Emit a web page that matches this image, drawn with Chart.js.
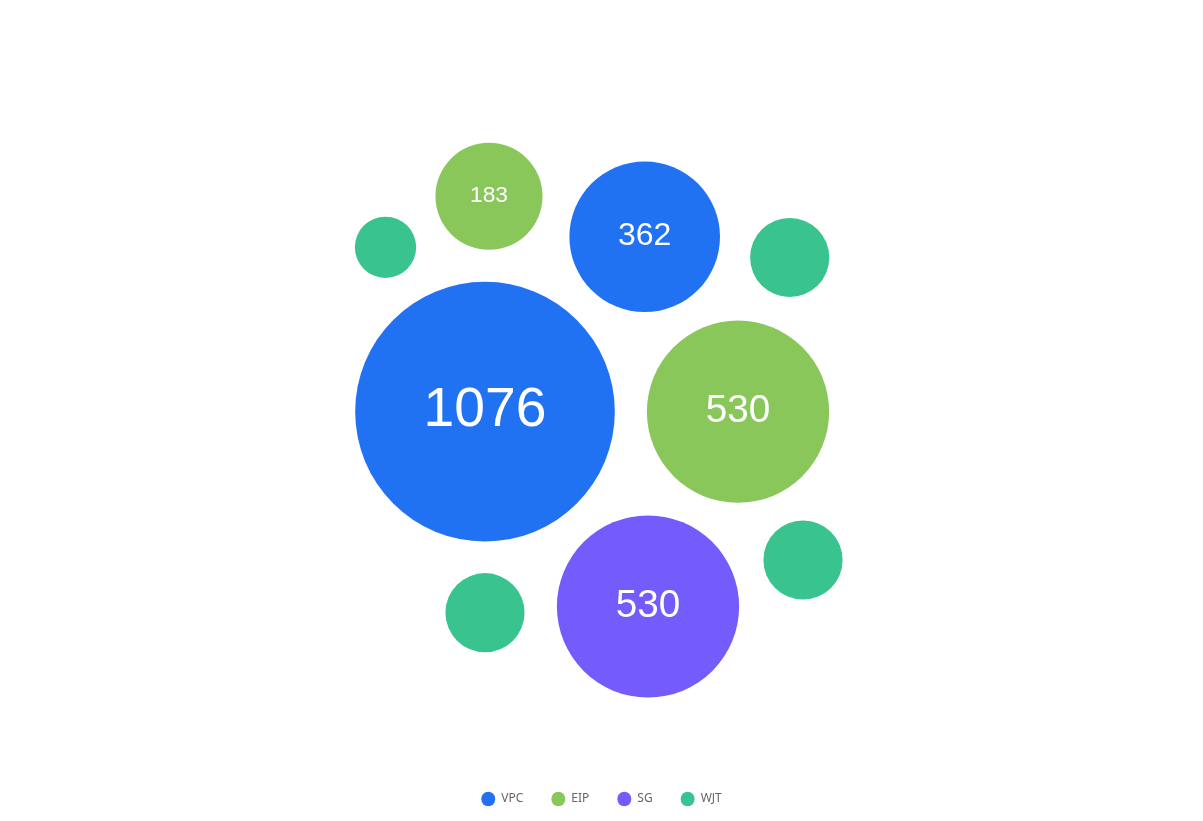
<!DOCTYPE html>
<html>
<head>
<meta charset="utf-8">
<script src="https://cdn.jsdelivr.net/npm/chart.js@4/dist/chart.umd.min.js"></script>
<style>
  html, body { margin: 0; padding: 0; background: #ffffff; }
  #wrap { width: 1203px; height: 821px; position: relative; }
</style>
</head>
<body>
<div id="wrap"><canvas id="c" width="1203" height="821"></canvas></div>
<script>
// ---- data ----
const seriesNames = ['VPC', 'EIP', 'SG', 'WJT'];
const seriesColors = ['#2172F3', '#8AC75B', '#745BFB', '#38C38F'];

// values per series
const vpcValues = [1076, 362];
const eipValues = [183, 530];
const sgValues  = [530];
const wjtValues = [100, 100, 100, 60];

// layout positions (packing layout units, origin at cluster centre)
const vpcX = [-116.5, 43.2];   const vpcY = [-29.2, 145.7];
const eipX = [-112.5, 136.5];  const eipY = [186.2, -29.2];
const sgX  = [46.5];           const sgY  = [-224];
const wjtX = [188.2, 201.5, -116.5, -216]; const wjtY = [125, -177.5, -230.2, 135.2];

const showValueLabel = [true, true, true, false];

// ---- build ----
const K = 3.958; // radius scale: r = K * sqrt(value)
function pts(xs, ys, vs) {
  return vs.map((v, i) => ({ x: xs[i], y: ys[i], r: K * Math.sqrt(v), v: v }));
}
const allData = [
  pts(vpcX, vpcY, vpcValues),
  pts(eipX, eipY, eipValues),
  pts(sgX, sgY, sgValues),
  pts(wjtX, wjtY, wjtValues)
];

const labelPlugin = {
  id: 'valueLabels',
  afterDatasetsDraw(chart) {
    const ctx = chart.ctx;
    chart.data.datasets.forEach((ds, di) => {
      if (!showValueLabel[di]) return;
      const meta = chart.getDatasetMeta(di);
      meta.data.forEach((el, i) => {
        const raw = ds.data[i];
        const fs = 0.425 * raw.r;
        ctx.save();
        ctx.font = fs.toFixed(1) + 'px "Liberation Sans", Arial, sans-serif';
        ctx.fillStyle = '#ffffff';
        ctx.textAlign = 'center';
        ctx.textBaseline = 'middle';
        ctx.fillText(String(raw.v), el.x, el.y - 0.015 * fs);
        ctx.restore();
      });
    });
  }
};

new Chart(document.getElementById('c'), {
  type: 'bubble',
  data: {
    datasets: seriesNames.map((name, i) => ({
      label: name,
      data: allData[i],
      backgroundColor: seriesColors[i],
      borderColor: seriesColors[i],
      borderWidth: 0,
      hoverBorderWidth: 0
    }))
  },
  options: {
    responsive: false,
    animation: false,
    clip: false,
    layout: { autoPadding: false, padding: { top: 0, left: 0, right: 0, bottom: 6 } },
    scales: {
      x: { display: false, min: -601.5, max: 601.5 },
      y: { display: false, min: -382.5, max: 382.5 }
    },
    plugins: {
      tooltip: { enabled: false },
      legend: {
        position: 'bottom',
        labels: {
          usePointStyle: true,
          pointStyle: 'circle',
          pointStyleWidth: 14,
          boxHeight: 10.3,
          padding: 28,
          color: '#666666',
          font: { family: '"Noto Sans", "Liberation Sans", sans-serif', size: 12 }
        }
      }
    }
  },
  plugins: [labelPlugin]
});
</script>
</body>
</html>
